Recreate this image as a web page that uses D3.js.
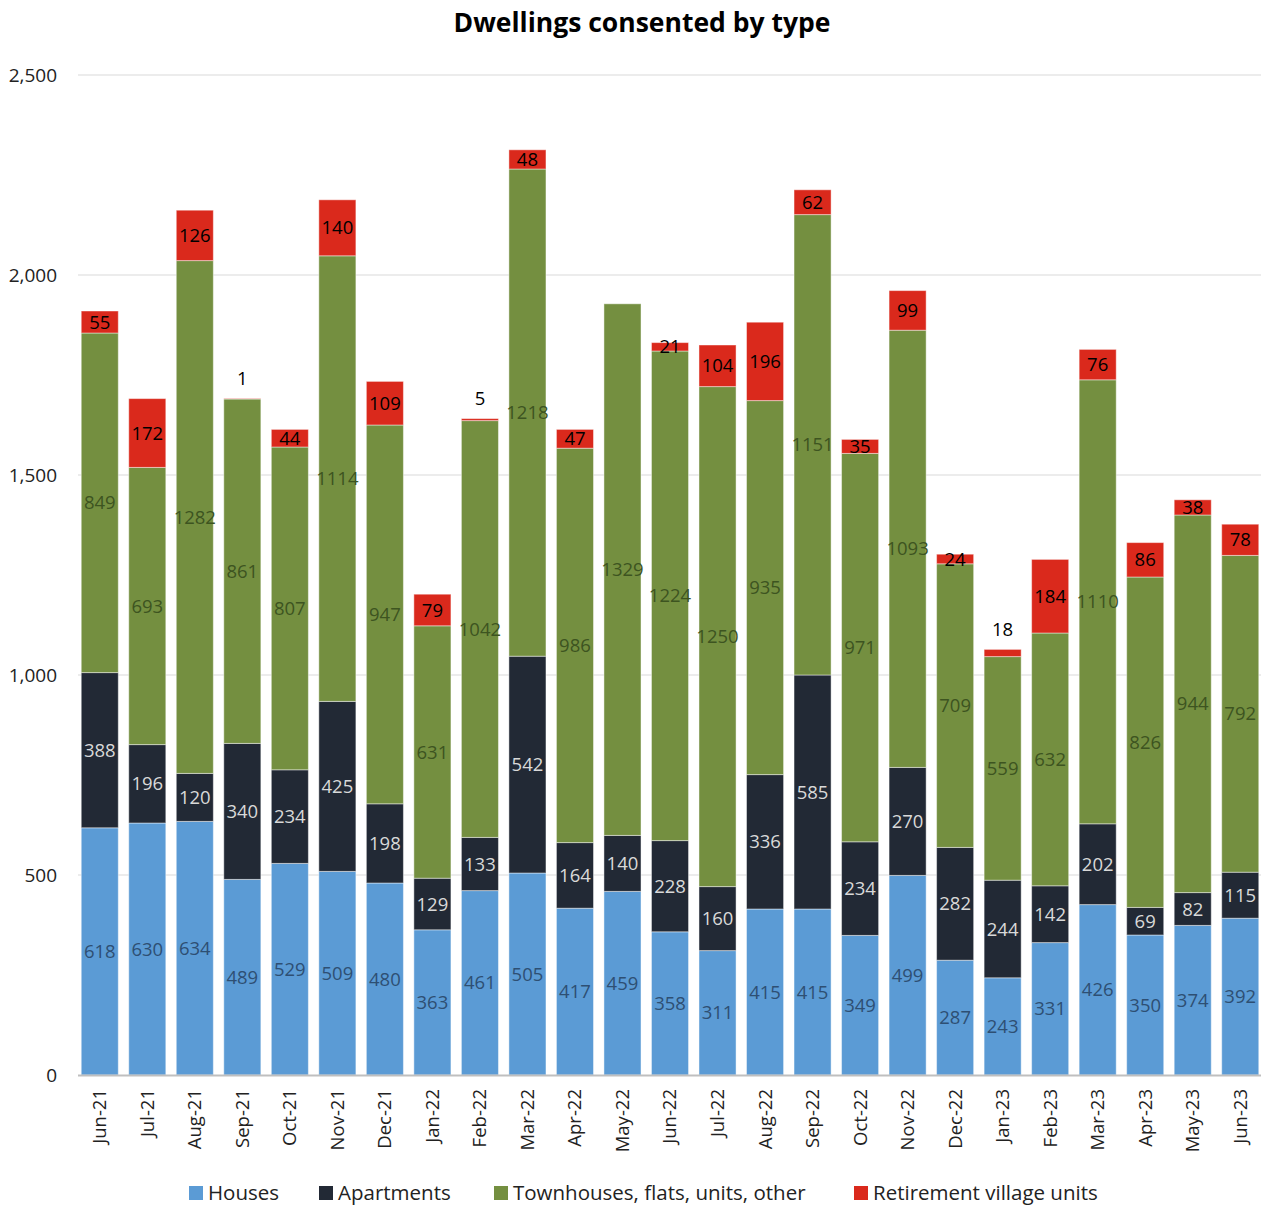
<!DOCTYPE html>
<html>
<head>
<meta charset="utf-8">
<script src="https://cdn.jsdelivr.net/npm/d3@7"></script>
<style>
	body { margin: 0; background: #fff; overflow: hidden; }
	svg { display: block; }
	text { font-family: "Open Sans", "Noto Sans", sans-serif; }
</style>
</head>
<body>
<script>
var months = ["Jun-21", "Jul-21", "Aug-21", "Sep-21", "Oct-21", "Nov-21", "Dec-21", "Jan-22", "Feb-22", "Mar-22", "Apr-22", "May-22",
	"Jun-22", "Jul-22", "Aug-22", "Sep-22", "Oct-22", "Nov-22", "Dec-22", "Jan-23", "Feb-23", "Mar-23", "Apr-23", "May-23", "Jun-23"];
var houses = [618, 630, 634, 489, 529, 509, 480, 363, 461, 505, 417, 459, 358, 311, 415, 415, 349, 499, 287, 243, 331, 426, 350, 374, 392];
var apartments = [388, 196, 120, 340, 234, 425, 198, 129, 133, 542, 164, 140, 228, 160, 336, 585, 234, 270, 282, 244, 142, 202, 69, 82, 115];
var townhouses = [849, 693, 1282, 861, 807, 1114, 947, 631, 1042, 1218, 986, 1329, 1224, 1250, 935, 1151, 971, 1093, 709, 559, 632, 1110, 826, 944, 792];
var retirement = [55, 172, 126, 1, 44, 140, 109, 79, 5, 48, 47, 0, 21, 104, 196, 62, 35, 99, 24, 18, 184, 76, 86, 38, 78];
var seriesNames = ["Houses", "Apartments", "Townhouses, flats, units, other", "Retirement village units"];
var yTicks = [0, 500, 1000, 1500, 2000, 2500];

var colors = ["#5b9bd5", "#222935", "#748f40", "#da291c"];
var labelColors = ["#2e4f73", "#d9d9d9", "#3d5420", "#000000"];

var W = 1261, H = 1207;
var svg = d3.select("body").append("svg")
	.attr("width", W)
	.attr("height", H);

var x = d3.scaleBand()
	.domain(months)
	.range([76, 1264])
	.paddingInner(0.22)
	.paddingOuter(0.11);

var y = d3.scaleLinear()
	.domain([0, 2500])
	.range([1075, 75]);

// grid
svg.append("g")
	.selectAll("line")
	.data(yTicks.filter(function(d) { return d > 0; }))
	.enter().append("line")
	.attr("x1", 78)
	.attr("x2", 1261)
	.attr("y1", function(d) { return y(d); })
	.attr("y2", function(d) { return y(d); })
	.attr("stroke", "#d9d9d9")
	.attr("stroke-width", 1);

svg.append("g")
	.selectAll("text")
	.data(yTicks)
	.enter().append("text")
	.attr("x", 57)
	.attr("y", function(d) { return y(d); })
	.attr("dy", "0.35em")
	.attr("text-anchor", "end")
	.style("font-size", "19px")
	.attr("fill", "#222")
	.text(function(d) { return d3.format(",")(d); });

var table = months.map(function(m, i) {
	return { month: m, s0: houses[i], s1: apartments[i], s2: townhouses[i], s3: retirement[i] };
});
var stack = d3.stack().keys(["s0", "s1", "s2", "s3"]);
var layers = stack(table);

var groups = svg.selectAll(".layer")
	.data(layers)
	.enter().append("g")
	.attr("class", "layer")
	.attr("fill", function(d, i) { return colors[i]; });

groups.selectAll("rect")
	.data(function(d) { return d; })
	.enter().append("rect")
	.filter(function(d) { return d[1] - d[0] > 0; })
	.attr("x", function(d) { return x(d.data.month); })
	.attr("width", x.bandwidth())
	.attr("y", function(d) { return y(d[1]); })
	.attr("height", function(d) { return y(d[0]) - y(d[1]); })
	.attr("stroke", "rgba(255,255,255,0.45)")
	.attr("stroke-width", 1);

// value labels (tiny retirement values sit above the bar)
layers.forEach(function(layer, li) {
	svg.append("g").selectAll("text")
		.data(layer.filter(function(d) { return d[1] - d[0] > 0; }))
		.enter().append("text")
		.attr("x", function(d) { return x(d.data.month) + x.bandwidth() / 2; })
		.attr("y", function(d) {
			var v = d[1] - d[0];
			if (li == 3 && v < 20) return y(d[1]) - 20;
			return y((d[0] + d[1]) / 2);
		})
		.attr("dy", "0.36em")
		.attr("text-anchor", "middle")
		.style("font-size", "18.5px")
		.attr("fill", labelColors[li])
		.text(function(d) { return d[1] - d[0]; });
});

// x axis
svg.append("line")
	.attr("x1", 78)
	.attr("x2", 1261)
	.attr("y1", 1075.5)
	.attr("y2", 1075.5)
	.attr("stroke", "#bfbfbf")
	.attr("stroke-width", 2);

svg.append("g")
	.selectAll("text")
	.data(months)
	.enter().append("text")
	.attr("transform", function(d) {
		return "translate(" + (x(d) + x.bandwidth() / 2) + ",1089) rotate(-90)";
	})
	.attr("dy", "0.35em")
	.attr("text-anchor", "end")
	.style("font-size", "18.5px")
	.attr("fill", "#222")
	.text(function(d) { return d; });

// title
svg.append("text")
	.attr("x", 642)
	.attr("y", 32)
	.attr("text-anchor", "middle")
	.style("font-size", "26.5px")
	.style("font-weight", "bold")
	.attr("fill", "#000")
	.text("Dwellings consented by type");

// legend
var legendX = [189, 319, 494, 854];
var legend = svg.selectAll(".legend")
	.data(seriesNames)
	.enter().append("g")
	.attr("class", "legend")
	.attr("transform", function(d, i) { return "translate(" + legendX[i] + ",1186)"; });

legend.append("rect")
	.attr("width", 14)
	.attr("height", 14)
	.attr("fill", function(d, i) { return colors[i]; });

legend.append("text")
	.attr("x", 19)
	.attr("y", 7)
	.attr("dy", "0.36em")
	.style("font-size", "20.5px")
	.attr("fill", "#222")
	.text(function(d) { return d; });
</script>
</body>
</html>
